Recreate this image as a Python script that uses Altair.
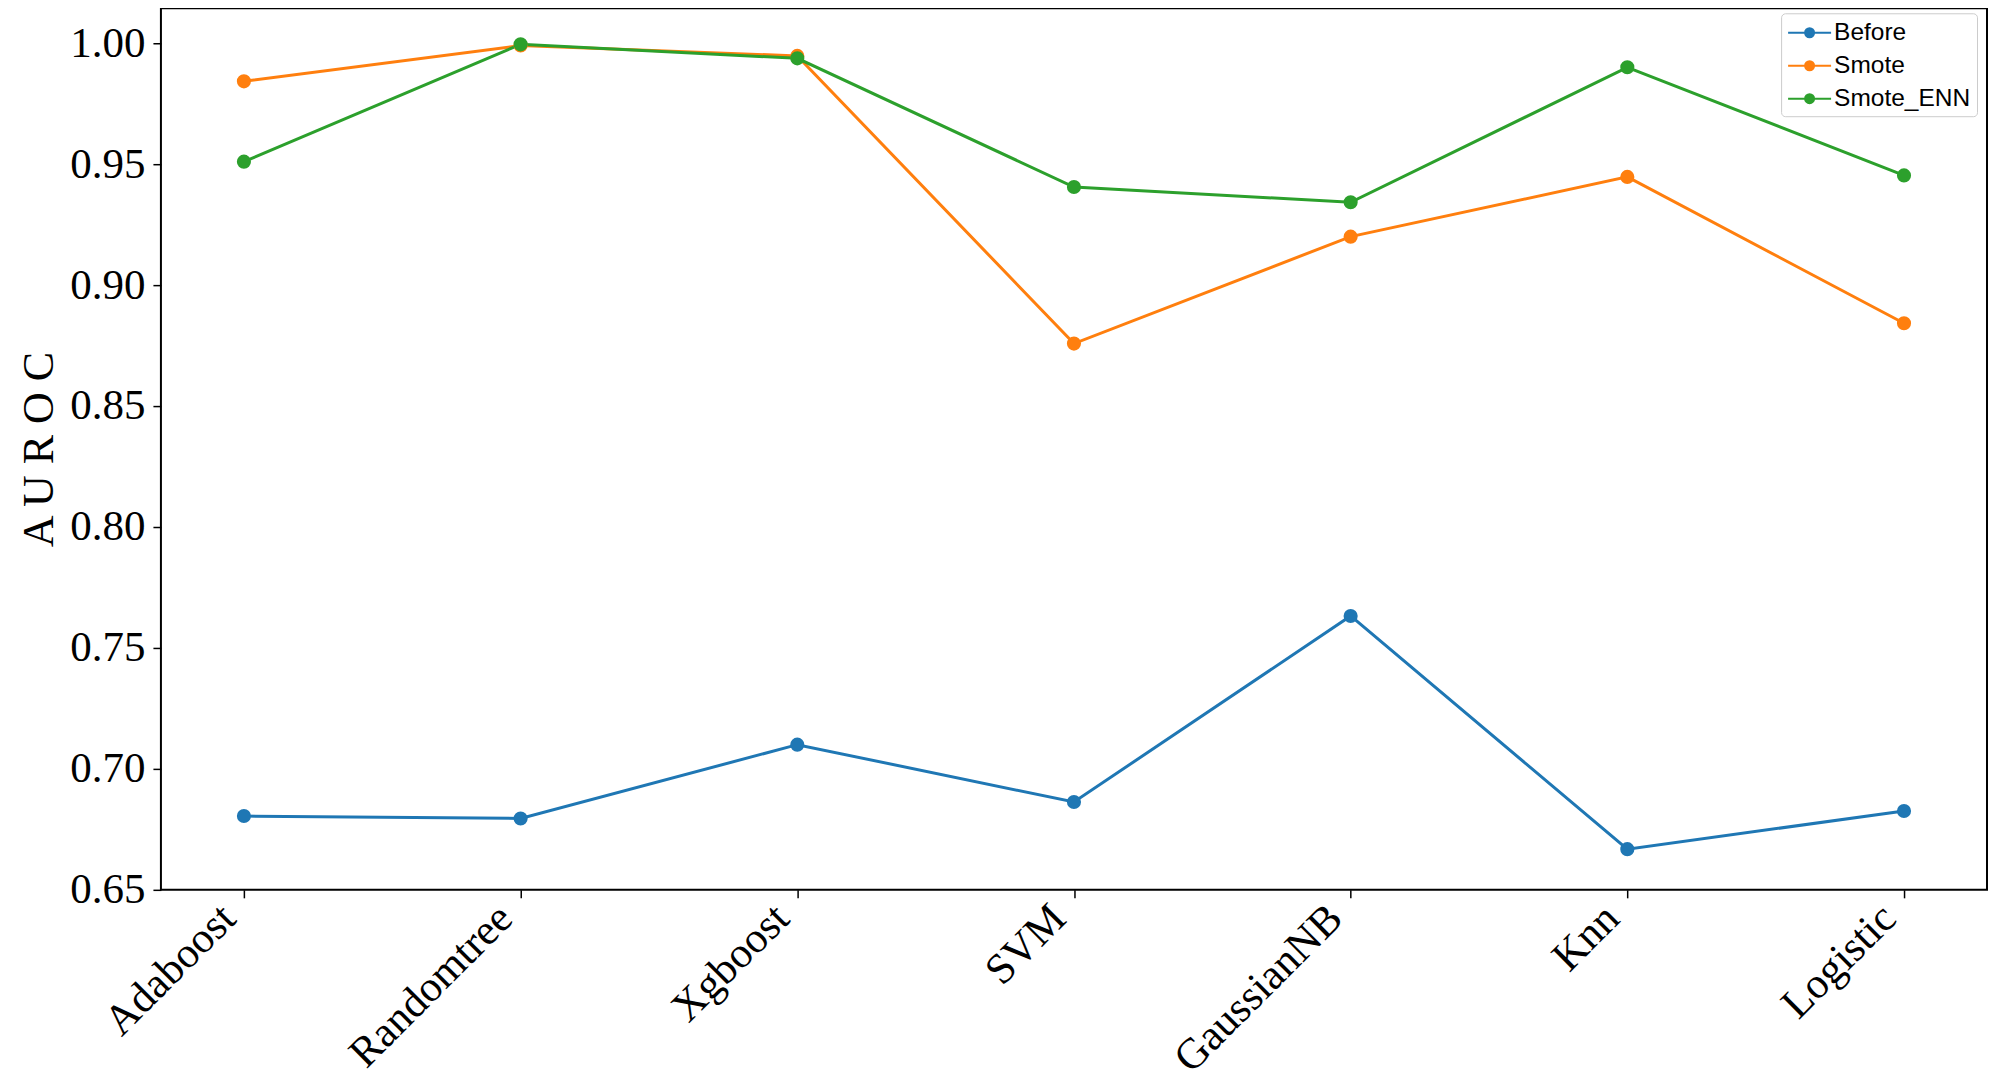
import altair as alt
import pandas as pd

models = ["Adaboost", "Randomtree", "Xgboost", "SVM", "GaussianNB", "Knn", "Logistic"]
before = [0.6805, 0.6795, 0.7100, 0.6863, 0.7632, 0.6668, 0.6826]
smote = [0.9842, 0.9990, 0.9947, 0.8758, 0.9200, 0.9447, 0.8842]
smote_enn = [0.9510, 0.9995, 0.9937, 0.9405, 0.9342, 0.9900, 0.9453]
series = ["Before", "Smote", "Smote_ENN"]
colors = ["#1f77b4", "#ff7f0e", "#2ca02c"]
y_ticks = [0.65, 0.70, 0.75, 0.80, 0.85, 0.90, 0.95, 1.00]

rows = []
for name, vals in zip(series, [before, smote, smote_enn]):
    for i, (m, v) in enumerate(zip(models, vals)):
        rows.append({"model": m, "series": name, "value": v, "order": i})
df = pd.DataFrame(rows)

serif = "Liberation Serif"
sans = "Liberation Sans"

legend_path = (
    "M-1.72,0H1.72 "
    "M-0.36,0A0.36,0.36 0 1,0 0.36,0A0.36,0.36 0 1,0 -0.36,0 "
    "M-0.22,0A0.22,0.22 0 1,0 0.22,0A0.22,0.22 0 1,0 -0.22,0 "
    "M-0.08,0A0.08,0.08 0 1,0 0.08,0A0.08,0.08 0 1,0 -0.08,0"
)

x = alt.X(
    "model:N",
    sort=models,
    scale=alt.Scale(type="point", padding=0.3),
    axis=alt.Axis(
        title=None,
        labelAngle=-45,
        labelAlign="right",
        labelBaseline="bottom",
        labelFont=serif,
        labelFontSize=43,
        labelColor="black",
        labelPadding=29,
        labelLimit=0,
        tickSize=8,
        tickColor="black",
        tickWidth=1.5,
        domain=False,
        grid=False,
    ),
)
y = alt.Y(
    "value:Q",
    scale=alt.Scale(domain=[0.65, 1.0144], nice=False, zero=False),
    axis=alt.Axis(
        title="A U R O C",
        titleFont=serif,
        titleFontSize=44,
        titleFontWeight="normal",
        titleColor="black",
        titlePadding=8,
        values=y_ticks,
        format=".2f",
        labelFont=serif,
        labelFontSize=43,
        labelColor="black",
        labelPadding=8,
        tickSize=8,
        tickColor="black",
        tickWidth=1.5,
        domain=False,
        grid=False,
    ),
)
color = alt.Color(
    "series:N",
    scale=alt.Scale(domain=series, range=colors),
    legend=alt.Legend(
        title=None,
        orient="none",
        legendX=1621,
        legendY=5,
        symbolType=legend_path,
        symbolSize=625,
        symbolStrokeWidth=2,
        symbolOffset=9,
        labelFont=sans,
        labelFontSize=24.5,
        labelColor="black",
        labelOffset=11,
        rowPadding=8,
        padding=6,
        fillColor="rgba(255,255,255,0.85)",
        strokeColor="#cccccc",
        cornerRadius=4,
    ),
)

chart = (
    alt.Chart(df)
    .mark_line(
        strokeWidth=3,
        point=alt.OverlayMarkDef(filled=True, size=200, opacity=1),
    )
    .encode(x=x, y=y, color=color, order="order:Q")
    .properties(
        width=1827,
        height=882,
        background="white",
        padding={"left": 9, "top": 0, "right": 5, "bottom": 0},
    )
    .configure_view(stroke="black", strokeWidth=2)
)

chart.save("out.html", embed_options={"renderer": "svg", "actions": False})
